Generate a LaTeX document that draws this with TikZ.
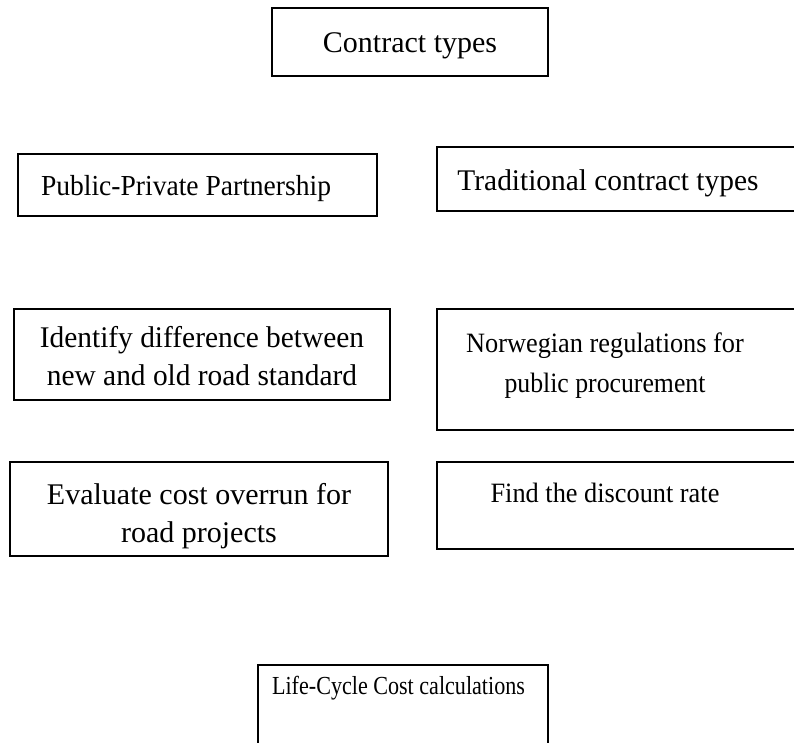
\documentclass[tikz,border=0pt]{standalone}
\usepackage{fontspec}
\setmainfont{Liberation Serif}
\usepackage{graphicx}
\usepackage{tikz}

\newcommand{\sq}[2]{\scalebox{#1}[1]{#2}}

\begin{document}
\begin{tikzpicture}[x=1pt, y=-1pt,
  box/.style={draw, line width=1.3pt, inner sep=0pt},
  txt/.style={align=center, inner sep=0pt, font=\fontsize{30}{38}\selectfont},
  smalltxt/.style={txt, font=\fontsize{28}{40}\selectfont}]
\clip (0,0) rectangle (794,742);
% boxes
\node[box, minimum width=276pt, minimum height=68pt] (contract) at (410,42) {};
\node[box, minimum width=359pt, minimum height=62pt] (ppp) at (197.5,185) {};
\node[box, minimum width=363pt, minimum height=64pt] (trad) at (618.5,179) {};
\node[box, minimum width=376pt, minimum height=91pt] (ident) at (202,354.5) {};
\node[box, minimum width=363pt, minimum height=121pt] (norw) at (618.5,369.5) {};
\node[box, minimum width=378pt, minimum height=94pt] (evalc) at (199,509) {};
\node[box, minimum width=363pt, minimum height=87pt] (disc) at (618.5,505.5) {};
\node[box, minimum width=290pt, minimum height=95pt] (lcc) at (403,712.5) {};
% labels
\node[txt] (contractlbl) at (410,46) {Contract types};
\node[txt, font=\fontsize{29}{38}\selectfont] (ppplbl) at (186,189) {\sq{.95}{Public-Private Partnership}};
\node[txt] (tradlbl) at (608,183) {\sq{.98}{Traditional contract types}};
\node[txt] (identlbl) at (202,356) {\sq{.98}{Identify difference between}\\\sq{.98}{new and old road standard}};
\node[smalltxt] (norwlbl) at (605,366) {\sq{.94}{Norwegian regulations for}\\\sq{.92}{public procurement}};
\node[txt] (evalclbl) at (199,516) {Evaluate cost overrun for\\road projects};
\node[smalltxt] (disclbl) at (605,493) {\sq{.94}{Find the discount rate}};
\node[txt, font=\fontsize{26}{34}\selectfont] (lcclbl) at (398.5,688) {\sq{.85}{Life-Cycle Cost calculations}};
\end{tikzpicture}
\end{document}
